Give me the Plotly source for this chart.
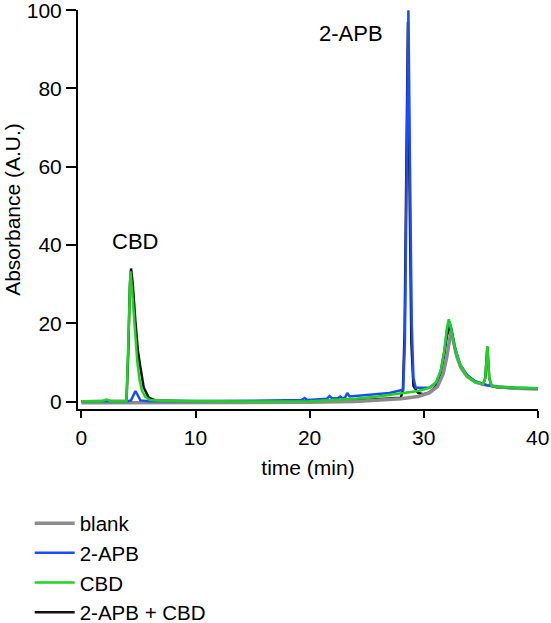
import plotly.graph_objects as go

# blank
t_blank = [0, 5, 10, 15, 20, 24, 26, 28, 29.5, 30.5, 31.2, 31.7, 32.0, 32.25, 32.4,
           32.6, 32.9, 33.3, 33.8, 34.5, 35.5, 36.5, 38, 40]
a_blank = [-0.3, -0.3, -0.3, -0.3, -0.2, 0.0, 0.3, 0.7, 1.3, 2.2, 3.8, 7.0, 11.0, 15.5, 18.0,
           15.5, 11.5, 8.5, 6.5, 5.0, 4.2, 3.8, 3.4, 3.2]

# 2-APB
t_apb = [0, 4, 4.35, 4.55, 4.73, 4.9, 5.17, 6, 10, 15, 19.3, 19.56, 19.8, 21.5, 21.75,
         22.0, 22.5, 22.7, 22.9, 23.1, 23.3, 23.5, 25, 27, 28.2, 28.35, 28.5, 28.66, 28.8,
         28.95, 29.1, 29.3, 30.5, 31.1, 31.5, 31.8, 32.05, 32.25, 32.45, 32.7, 33.2, 33.8,
         34.5, 35.5, 36.5, 38, 40]
a_apb = [0.1, 0.1, 0.3, 1.8, 2.7, 1.8, 0.3, 0.1, 0.1, 0.2, 0.4, 0.9, 0.4, 0.7, 1.4,
         0.8, 0.9, 1.3, 0.8, 1.0, 2.2, 1.3, 1.7, 2.2, 3.0, 15, 55, 100, 60,
         20, 6, 3.5, 3.5, 4.8, 7.8, 12.5, 18.5, 20.5, 18.5, 14, 9.5, 6.8,
         5.2, 4.2, 3.8, 3.5, 3.4]

# CBD
t_cbd = [0, 1.8, 2.2, 2.6, 3.95, 4.05, 4.2, 4.3, 4.45, 4.6, 4.75, 4.9, 5.1, 5.3, 5.6,
         6.0, 7, 10, 15, 20, 24, 26, 28, 29.5, 30.5, 31.1, 31.5, 31.8, 32.05, 32.2, 32.4,
         32.7, 33.2, 33.8, 34.5, 35.2, 35.4, 35.58, 35.75, 35.95, 36.5, 38, 40]
a_cbd = [0.1, 0.1, 0.5, 0.1, 0.1, 10, 28, 33.3, 28, 21, 15, 10, 5.5, 2.8, 1.2,
         0.4, 0.2, 0.1, 0.0, 0.1, 0.7, 1.3, 2.2, 2.7, 3.5, 5.0, 8.0, 13, 19, 21, 18.5,
         14, 9.5, 6.5, 5.0, 4.4, 6.0, 14.2, 6.0, 4.0, 3.7, 3.5, 3.4]

# 2-APB + CBD
t_mix = [0, 3.95, 4.1, 4.25, 4.35, 4.5, 4.73, 4.95, 5.17, 5.46, 5.9, 6.5, 10, 15, 20,
         24, 26, 27, 28, 28.18, 28.33, 28.48, 28.62, 28.76, 28.92, 29.1, 29.5, 30, 30.5,
         31.1, 31.5, 31.8, 32.05, 32.3, 32.5, 32.8, 33.2, 33.8, 34.5, 35.2, 35.4, 35.58,
         35.75, 35.95, 36.5, 38, 40]
a_mix = [0.1, 0.2, 12, 30, 34, 30, 20.5, 13, 8.7, 3.6, 1.0, 0.3, 0.1, 0.1, 0.1,
         0.3, 0.6, 0.8, 1.0, 3, 18, 60, 97, 55, 15, 4, 2.2, 1.9, 2.3,
         4, 7.5, 12, 17, 19, 17, 13, 9, 6.5, 5, 4.3, 6, 14,
         6, 4, 3.6, 3.4, 3.3]

x_ticks = [0, 10, 20, 30, 40]
y_ticks = [0, 20, 40, 60, 80, 100]

font = "Liberation Sans, Arial, sans-serif"

fig = go.Figure()
fig.add_trace(go.Scatter(x=t_mix, y=a_mix, name="2-APB + CBD", mode="lines",
                         line=dict(color="#111111", width=2.5), legendrank=4))
fig.add_trace(go.Scatter(x=t_blank, y=a_blank, name="blank", mode="lines",
                         line=dict(color="#8c8c8c", width=3.5), legendrank=1))
fig.add_trace(go.Scatter(x=t_apb, y=a_apb, name="2-APB", mode="lines",
                         line=dict(color="#1a4cff", width=2.5), legendrank=2))
fig.add_trace(go.Scatter(x=t_cbd, y=a_cbd, name="CBD", mode="lines",
                         line=dict(color="#1ed41e", width=2.5), legendrank=3))

fig.add_annotation(x=4.73, y=41, text="CBD", showarrow=False,
                   font=dict(size=22, color="black", family=font))
fig.add_annotation(x=23.64, y=94, text="2-APB", showarrow=False,
                   font=dict(size=22, color="black", family=font))

fig.update_xaxes(range=[-0.3, 40.02], tickvals=x_ticks, showline=True, linewidth=2,
                 linecolor="black", ticks="outside", ticklen=7, tickwidth=2,
                 tickcolor="black", showgrid=False, zeroline=False, automargin=False,
                 ticklabelstandoff=2,
                 title=dict(text="time (min)", font=dict(size=21), standoff=12),
                 tickfont=dict(size=21))
fig.update_yaxes(range=[-1.9, 100.05], tickvals=y_ticks, showline=True, linewidth=2,
                 linecolor="black", ticks="outside", ticklen=10, tickwidth=2,
                 tickcolor="black", showgrid=False, zeroline=False, automargin=False,
                 ticklabelstandoff=0, ticklabeloverflow="allow",
                 title=dict(text="Absorbance (A.U.)", font=dict(size=21), standoff=0),
                 tickfont=dict(size=21))

fig.update_layout(
    width=551, height=623,
    margin=dict(l=78, r=13, t=10, b=214),
    plot_bgcolor="white", paper_bgcolor="white",
    font=dict(family=font, color="black", size=21),
    legend=dict(x=-0.105, y=0.192, xref="paper", yref="container",
                xanchor="left", yanchor="top",
                itemwidth=40, font=dict(size=20.5), bgcolor="rgba(0,0,0,0)"),
)

fig.write_html("out.html", config={"displayModeBar": False},
               post_script="document.body.style.margin = '0';")
